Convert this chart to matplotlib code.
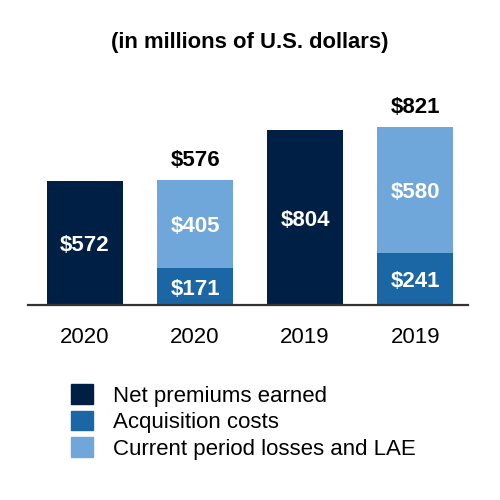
import matplotlib
matplotlib.use("Agg")
import matplotlib.pyplot as plt
from matplotlib.patches import Patch

plt.rcParams['font.family'] = ['Liberation Sans', 'DejaVu Sans']

categories = ["2020", "2020", "2019", "2019"]
net_premiums = [572, 0, 804, 0]
acquisition = [0, 171, 0, 241]
losses = [0, 405, 0, 580]
totals = [None, 576, None, 821]

c_net = "#001f45"
c_acq = "#1b66a4"
c_loss = "#6fa7da"

fig = plt.figure(figsize=(5, 5), dpi=100)
ax = fig.add_axes([0.056, 0.39, 0.88, 0.43])
x = list(range(len(categories)))
w = 0.69
ax.bar(x, net_premiums, width=w, color=c_net)
ax.bar(x, acquisition, width=w, color=c_acq)
ax.bar(x, losses, width=w, bottom=acquisition, color=c_loss)

fs = 16
off = -12
for i in x:
    if net_premiums[i]:
        ax.text(i, net_premiums[i] / 2 + off, f"${net_premiums[i]}", ha="center", va="center",
                color="white", fontsize=fs, fontweight="bold")
    if acquisition[i]:
        ax.text(i, acquisition[i] / 2 + off, f"${acquisition[i]}", ha="center", va="center",
                color="white", fontsize=fs, fontweight="bold")
    if losses[i]:
        ax.text(i, acquisition[i] + losses[i] / 2 + off, f"${losses[i]}", ha="center", va="center",
                color="white", fontsize=fs, fontweight="bold")
    if totals[i]:
        ax.text(i, acquisition[i] + losses[i] + 40, f"${totals[i]}", ha="center", va="bottom",
                color="black", fontsize=fs, fontweight="bold")

ax.set_xlim(-0.518, 3.48)
ax.set_ylim(0, 990)
ax.set_xticks(x)
ax.set_xticklabels(categories, fontsize=fs)
ax.tick_params(axis="x", length=0, pad=16)
ax.set_yticks([])
for s in ["top", "right", "left"]:
    ax.spines[s].set_visible(False)
ax.spines["bottom"].set_color("#333333")
ax.spines["bottom"].set_linewidth(1.6)

fig.text(0.5, 0.915, "(in millions of U.S. dollars)", ha="center", va="center",
         fontsize=15.8, fontweight="bold")

handles = [Patch(color=c_net), Patch(color=c_acq), Patch(color=c_loss)]
labels = ["Net premiums earned", "Acquisition costs", "Current period losses and LAE"]
fig.legend(handles, labels, loc="upper left", bbox_to_anchor=(0.142, 0.232), frameon=False,
           fontsize=fs, handlelength=1.0, handleheight=1.0, handletextpad=0.9,
           labelspacing=0.18, borderpad=0, borderaxespad=0)

fig.savefig("out.png", dpi=100)
